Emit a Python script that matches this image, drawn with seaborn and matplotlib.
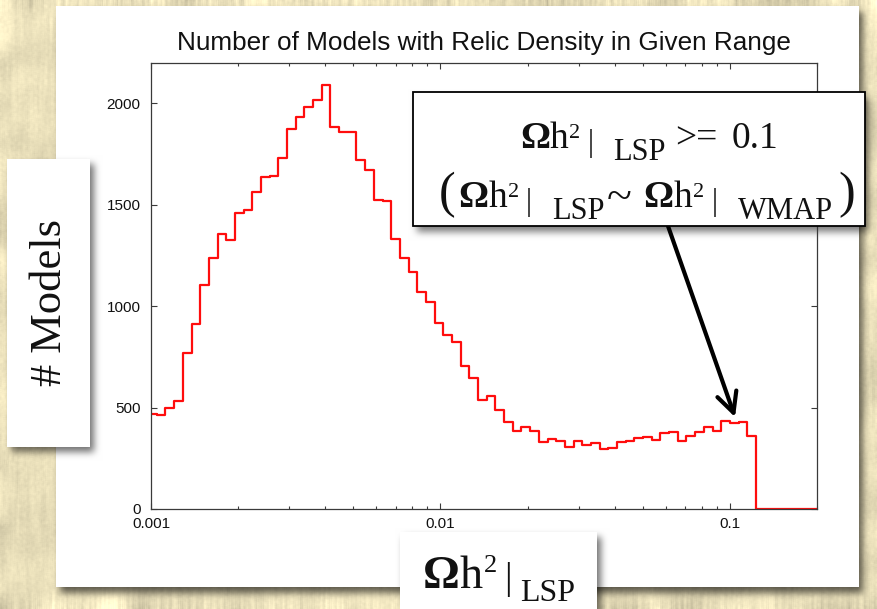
import numpy as np
import pandas as pd
import matplotlib
matplotlib.use("Agg")
import matplotlib.pyplot as plt
from matplotlib.patches import Rectangle
from matplotlib.ticker import FixedLocator, FixedFormatter, LogLocator, NullFormatter
import seaborn as sns

# Number of models per bin; bins are 0.03 wide in log10(Omega h^2 | LSP)
model_counts = [470, 462, 496, 532, 771, 914, 1106, 1239, 1356, 1326,
                1461, 1476, 1561, 1637, 1641, 1729, 1875, 1931, 1983, 2018,
                2090, 1885, 1857, 1860, 1720, 1671, 1523, 1518, 1331, 1236,
                1167, 1071, 1022, 915, 858, 822, 707, 644, 539, 557,
                490, 430, 386, 406, 386, 332, 343, 335, 307, 335,
                314, 326, 296, 302, 332, 335, 352, 355, 340, 373,
                378, 335, 360, 380, 403, 386, 435, 426, 430, 361]
log_first_edge = -3.01
log_bin_width = 0.03

x_range = [0.001, 0.2]
y_range = [0, 2200]
x_ticks = [0.001, 0.01, 0.1]
x_tick_labels = ["0.001", "0.01", "0.1"]
y_ticks = [0, 500, 1000, 1500, 2000]
y_tick_labels = ["0", "500", "1000", "1500", "2000"]

title = "Number of Models with Relic Density in Given Range"
y_label = "# Models"
note_threshold = "0.1"
note_target = (0.1042, 453)

SERIF = ["Liberation Serif", "DejaVu Serif"]

sns.set_style("ticks")
plt.rcParams["font.family"] = ["Liberation Sans", "DejaVu Sans"]

W, H = 877, 609
fig = plt.figure(figsize=(W / 100, H / 100), dpi=100)


def fx(px):
    return px / W


def fy(py):
    return 1 - py / H


# ---- slide background: parchment, white panels and soft drop shadows ----
def blur1d(a, r, axis):
    pad = [(0, 0)] * a.ndim
    pad[axis] = (r + 1, r)
    ap = np.pad(a, pad, mode="edge")
    c = np.cumsum(ap, axis=axis)
    n = a.shape[axis]
    hi = np.take(c, np.arange(2 * r + 1, 2 * r + 1 + n), axis=axis)
    lo = np.take(c, np.arange(0, n), axis=axis)
    return (hi - lo) / (2 * r + 1)


def blur(a, r, passes=3, axes=(0, 1)):
    for _ in range(passes):
        for ax_i in axes:
            a = blur1d(a, r, ax_i)
    return a


rng = np.random.default_rng(11)
mottle = blur(rng.normal(size=(H, W)), 10)
mottle /= mottle.std()
fibres = blur1d(blur1d(rng.normal(size=(H, W)), 18, 0), 1, 1)
fibres /= fibres.std()
grain = blur(rng.normal(size=(H, W)), 1, passes=1)
grain /= grain.std()
base = np.array([233, 223, 186]) / 255.0
shade = 1 + 0.025 * mottle + 0.012 * fibres + 0.01 * grain
img = base[None, None, :] * shade[..., None]


def drop_shadow(img, box, dx=4, dy=6, r=3, strength=0.55):
    x0, y0, x1, y1 = box
    mask = np.zeros((H, W))
    mask[max(y0 + dy, 0):min(y1 + dy, H), max(x0 + dx, 0):min(x1 + dx, W)] = 1.0
    mask = blur(mask, r)
    img *= (1 - strength * mask)[..., None]


def panel(img, box):
    x0, y0, x1, y1 = box
    img[max(y0, 0):min(y1, H), max(x0, 0):min(x1, W)] = 1.0


chart_box = (56, 6, 859, 587)
ylabel_box = (7, 159, 90, 447)
xlabel_box = (400, 532, 597, 640)
note_box = (413, 92, 865, 226)

drop_shadow(img, chart_box, dx=4, dy=6, r=3, strength=0.6)
panel(img, chart_box)
drop_shadow(img, ylabel_box, dx=4, dy=5, r=3, strength=0.55)
panel(img, ylabel_box)
drop_shadow(img, xlabel_box, dx=4, dy=5, r=3, strength=0.55)
panel(img, xlabel_box)
drop_shadow(img, note_box, dx=4, dy=6, r=3, strength=0.5)

bg = fig.add_axes([0, 0, 1, 1], zorder=-10)
bg.imshow(np.clip(img, 0, 1), extent=[0, W, H, 0], interpolation="bilinear", aspect="auto")
bg.set_xlim(0, W)
bg.set_ylim(H, 0)
bg.axis("off")

# ---- histogram ----
edges = 10 ** (log_first_edge + log_bin_width * np.arange(len(model_counts) + 1))
df = pd.DataFrame({
    "omega": list(edges[:-1]) + [edges[-1], x_range[1]],
    "models": model_counts + [0, 0],
})

ax = fig.add_axes([fx(151), fy(509), fx(817) - fx(151), fy(62.7) - fy(509)], zorder=1)
ax.patch.set_alpha(0)
sns.lineplot(data=df, x="omega", y="models", ax=ax, drawstyle="steps-post",
             color="#ff0d0d", linewidth=1.6, estimator=None, sort=False, legend=False)
ax.set_xscale("log")
ax.set_xlim(*x_range)
ax.set_ylim(*y_range)
ax.set_xlabel("")
ax.set_ylabel("")

ax.xaxis.set_major_locator(FixedLocator(x_ticks))
ax.xaxis.set_major_formatter(FixedFormatter(x_tick_labels))
ax.xaxis.set_minor_locator(LogLocator(base=10, subs=np.arange(2, 10)))
ax.xaxis.set_minor_formatter(NullFormatter())
ax.yaxis.set_major_locator(FixedLocator(y_ticks))
ax.yaxis.set_major_formatter(FixedFormatter(y_tick_labels))

for sp in ax.spines.values():
    sp.set_color("#3a3a3a")
    sp.set_linewidth(0.9)
    sp.set_visible(True)
ax.tick_params(which="both", direction="in", top=True, right=True,
               colors="#3a3a3a", labelcolor="#111111", width=0.8)
ax.tick_params(which="major", length=4.3, labelsize=11)
ax.tick_params(axis="y", which="major", pad=7.5)
ax.tick_params(axis="x", which="major", pad=6.0)
ax.tick_params(which="minor", length=2.2)

ax.set_title(title, fontsize=18.8, color="#111111", pad=9)

# ---- slide labels and callout ----
renderer = fig.canvas.get_renderer()


def rich_line(x_center, baseline, segments, zorder=6):
    """Lay out (text, size, weight, raise_px, gap_px) pieces on one baseline."""
    placed = []
    total = 0.0
    for text, size, weight, rise, gap in segments:
        t = fig.text(0, 0, text, fontsize=size, fontweight=weight, family=SERIF,
                     ha="left", va="baseline", color="#111111", zorder=zorder)
        w = t.get_window_extent(renderer=renderer).width
        placed.append((t, rise, gap, w))
        total += gap + w
    x = x_center - total / 2
    for t, rise, gap, w in placed:
        x += gap
        t.set_position((fx(x), fy(baseline - rise)))
        x += w


def omega_lsp(main, sup, bar, sub, sub_name, sup_rise, sub_drop, bar_drop, sub_gap, lead_gap=0):
    return [("Ω", main, "bold", 0, lead_gap),
            ("h", main, "normal", 0, 0),
            ("2", sup, "normal", sup_rise, 1),
            ("|", bar, "normal", -bar_drop, 7),
            (sub_name, sub, "normal", -sub_drop, sub_gap)]


fig.text(fx(50), fy(303), y_label, rotation=90, ha="center", va="center",
         fontsize=32, family=SERIF, color="#111111")

rich_line(499, 588, omega_lsp(33, 19, 27, 23, "LSP", 16, 13, 1, 8))

fig.add_artist(Rectangle((fx(note_box[0]), fy(note_box[3])),
                         fx(note_box[2]) - fx(note_box[0]),
                         fy(note_box[1]) - fy(note_box[3]),
                         transform=fig.transFigure, facecolor="white",
                         edgecolor="black", linewidth=1.3, zorder=5))

line1 = (omega_lsp(27, 16, 22, 22, "LSP", 10, 12, 3, 20)
         + [(">=", 27, "normal", 0, 9), (note_threshold, 27, "normal", 0, 14)])
line2 = ([("(", 36, "normal", 0, 0)]
         + omega_lsp(27, 16, 22, 22, "LSP", 10, 12, 3, 20, lead_gap=3)
         + [("~", 33, "normal", -3, 2)]
         + omega_lsp(27, 16, 22, 22, "WMAP", 10, 12, 3, 20, lead_gap=12)
         + [(")", 36, "normal", 0, 6)])
rich_line(649, 148, line1)
rich_line(647, 207, line2)

ax.annotate("", xy=note_target, xycoords="data",
            xytext=(fx(668), fy(226)), textcoords="figure fraction",
            arrowprops=dict(arrowstyle="->,head_length=0.4,head_width=0.2",
                            lw=3, color="black", mutation_scale=36,
                            shrinkA=0, shrinkB=0),
            annotation_clip=False, zorder=4)

fig.savefig("out.png", dpi=100)
